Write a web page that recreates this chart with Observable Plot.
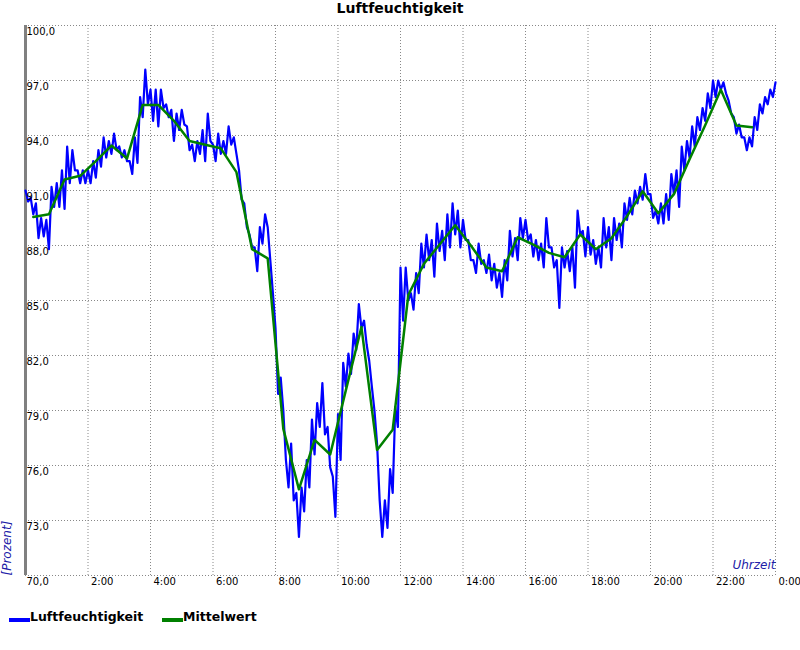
<!DOCTYPE html>
<html><head><meta charset="utf-8">
<script src="https://cdn.jsdelivr.net/npm/d3@7"></script>
<script src="https://cdn.jsdelivr.net/npm/@observablehq/plot@0.6"></script>
<style>
body{margin:0;background:#fff;}
#wrap{position:relative;width:800px;height:650px;overflow:hidden;font-family:"DejaVu Sans",sans-serif;}
#chart{position:absolute;left:0;top:0;}
#title{position:absolute;left:0;top:0;width:800px;text-align:center;font:bold 14px/16px "DejaVu Sans";color:#000;}
.lg{position:absolute;top:609px;font:bold 12.5px/15px "DejaVu Sans";color:#000;white-space:nowrap;}
.sw{position:absolute;top:618px;width:21px;height:4px;}
</style></head><body>
<div id="wrap">
<div id="chart"></div>
<div id="title"></div>
<div id="legend"></div>
</div>
<script>
// ---- data ----
const titleText = "Luftfeuchtigkeit";
const seriesNames = ["Luftfeuchtigkeit", "Mittelwert"];
const seriesColors = ["#0000ff", "#008000"];
const yTicks = [70, 73, 76, 79, 82, 85, 88, 91, 94, 97, 100];
const yTickLabels = ["70,0", "73,0", "76,0", "79,0", "82,0", "85,0", "88,0", "91,0", "94,0", "97,0", "100,0"];
const xTicks = [2, 4, 6, 8, 10, 12, 14, 16, 18, 20, 22, 24];
const xTickLabels = ["2:00", "4:00", "6:00", "8:00", "10:00", "12:00", "14:00", "16:00", "18:00", "20:00", "22:00", "0:00"];
const xGrid = [2, 4, 6, 8, 10, 12, 14, 16, 18, 20, 22, 24];

// humidity, 10-minute slots: upper value (at slot start) and lower value (5 min later)
const humidityHigh = [
91.0, 90.6, 90.3, 89.5, 89.4, 91.2,
91.4, 92.1, 93.4, 93.2, 92.1, 92.1,
92.1, 92.6, 93.2, 93.9, 93.7, 94.1,
93.4, 93.2, 92.6, 93.9, 96.1, 97.6,
96.5, 96.5, 96.5, 95.7, 95.4, 95.2,
95.4, 94.5, 93.5, 93.7, 94.3, 95.2,
93.5, 94.1, 93.7, 94.5, 93.9, 92.1,
90.3, 88.6, 87.9, 89.0, 89.7, 87.2,
83.5, 80.8, 76.3, 77.2, 74.5, 74.8,
76.3, 78.5, 79.4, 80.5, 78.1, 75.4,
78.8, 81.6, 82.1, 83.2, 84.8, 83.9,
81.7, 79.0, 74.1, 74.1, 75.8, 79.2,
86.8, 86.8, 85.4, 86.5, 88.1, 88.6,
88.3, 89.2, 88.8, 89.7, 90.3, 89.9,
89.4, 88.3, 87.2, 88.1, 87.2, 87.5,
87.0, 86.5, 87.2, 88.8, 88.4, 89.5,
89.4, 88.6, 88.3, 88.1, 89.5, 87.9,
87.2, 87.9, 87.7, 87.9, 89.9, 88.8,
89.0, 88.3, 87.9, 89.5, 89.0, 89.5,
89.2, 90.3, 90.6, 91.0, 91.2, 91.9,
90.8, 89.9, 90.3, 90.8, 91.9, 92.1,
93.4, 93.7, 94.5, 95.0, 95.5, 96.3,
97.0, 97.0, 96.9, 95.9, 95.0, 94.6,
93.9, 93.9, 95.0, 95.7, 96.1, 96.5,
96.9
];
const humidityLow = [
90.4, 89.7, 88.4, 88.5, 87.8, 90.1,
90.1, 90.0, 91.4, 92.1, 91.4, 91.4,
91.4, 91.7, 92.3, 92.8, 93.0, 93.2,
92.8, 92.6, 91.9, 92.5, 95.0, 95.7,
94.8, 94.5, 95.5, 95.0, 93.7, 94.3,
94.6, 93.2, 92.6, 93.0, 92.6, 93.7,
92.6, 93.0, 93.0, 93.5, 93.0, 90.5,
89.0, 87.9, 86.6, 88.1, 89.0, 85.4,
79.9, 79.0, 74.8, 74.1, 72.1, 73.5,
74.8, 76.6, 78.1, 77.7, 75.9, 73.2,
76.3, 80.3, 81.0, 82.3, 83.5, 82.6,
80.3, 77.2, 72.1, 72.6, 74.5, 78.1,
83.9, 85.0, 84.5, 85.4, 86.8, 87.2,
86.3, 87.7, 87.2, 87.9, 88.6, 87.9,
88.3, 87.2, 86.5, 87.0, 86.5, 86.1,
85.7, 85.2, 86.1, 87.4, 87.2, 88.4,
88.3, 87.4, 87.2, 86.8, 87.9, 86.8,
84.6, 86.8, 86.6, 85.7, 88.6, 87.4,
87.5, 87.0, 86.8, 87.9, 87.2, 88.3,
87.9, 89.4, 89.7, 90.3, 90.5, 90.8,
89.5, 89.2, 89.2, 89.4, 90.8, 90.1,
92.1, 92.8, 93.4, 94.3, 94.8, 95.5,
96.1, 96.5, 96.3, 95.2, 94.1, 93.9,
93.2, 93.4, 94.3, 95.2, 95.7, 96.1
];
// half-hourly mean, first point at 0:15
const meanValues = [
89.55, 89.7, 91.6, 91.8, 92.6, 93.45, 92.75, 95.67, 95.67, 94.8,
93.7, 93.5, 93.3, 92.0, 87.8, 87.3, 78.0, 74.7, 77.4, 76.6,
80.1, 83.55, 76.85, 77.95, 85.3, 87.0, 88.05, 89.1, 88.0, 86.8,
86.6, 88.45, 88.05, 87.6, 87.36, 88.6, 87.8, 88.4, 89.6, 90.96,
89.76, 90.8, 92.7, 94.56, 96.5, 94.55, 94.45
];

// ---- build tables ----
const humidity = [];
humidityHigh.forEach((v, i) => {
  humidity.push({t: i / 6, v});
  if (i < humidityLow.length) humidity.push({t: i / 6 + 1 / 12, v: humidityLow[i]});
});
const mean = meanValues.map((v, i) => ({t: 0.25 + i * 0.5, v}));

const gridStyle = {stroke: "#888", strokeDasharray: "1,2", strokeWidth: 1};
const axisBlue = "#2020a8";

const chart = Plot.plot({
  width: 800, height: 600,
  marginLeft: 25, marginRight: 25, marginTop: 25, marginBottom: 25,
  x: {domain: [0, 24], axis: null},
  y: {domain: [70, 100], axis: null},
  style: {fontFamily: "DejaVu Sans", fontSize: "10px", background: "transparent", overflow: "visible"},
  marks: [
    Plot.ruleY(yTicks, {y: d => d, ...gridStyle}),
    Plot.ruleX(xGrid, {x: d => d, ...gridStyle}),
    Plot.ruleX([0], {x: d => d, stroke: "#808080", strokeWidth: 3}),
    Plot.line(humidity, {x: "t", y: "v", stroke: seriesColors[0], strokeWidth: 2.2}),
    Plot.line(mean, {x: "t", y: "v", stroke: seriesColors[1], strokeWidth: 2.5}),
    Plot.text(yTicks, {x: 0, y: d => d, text: (d, i) => yTickLabels[i], textAnchor: "start", dx: 1, dy: 6, fill: "#000", fontSize: 10}),
    Plot.text(xTicks, {x: d => d, y: 70, text: (d, i) => xTickLabels[i], textAnchor: "start", dx: 3, dy: 6, fill: "#000", fontSize: 10}),
    Plot.text(["Uhrzeit"], {frameAnchor: "bottom-right", text: d => d, textAnchor: "end", dy: -7, fontStyle: "italic", fontSize: 12, fill: axisBlue}),
    Plot.text(["[Prozent]"], {frameAnchor: "bottom-left", text: d => d, rotate: -90, textAnchor: "start", dx: -15, fontStyle: "italic", fontSize: 12, fill: axisBlue})
  ]
});
document.getElementById("chart").appendChild(chart);
document.getElementById("title").textContent = titleText;

const legend = document.getElementById("legend");
const legendX = [9, 162];
seriesNames.forEach((name, i) => {
  const sw = document.createElement("div");
  sw.className = "sw";
  sw.style.left = legendX[i] + "px";
  sw.style.background = seriesColors[i];
  legend.appendChild(sw);
  const lb = document.createElement("div");
  lb.className = "lg";
  lb.style.left = (legendX[i] + 21) + "px";
  lb.textContent = name;
  legend.appendChild(lb);
});
</script>
</body></html>
